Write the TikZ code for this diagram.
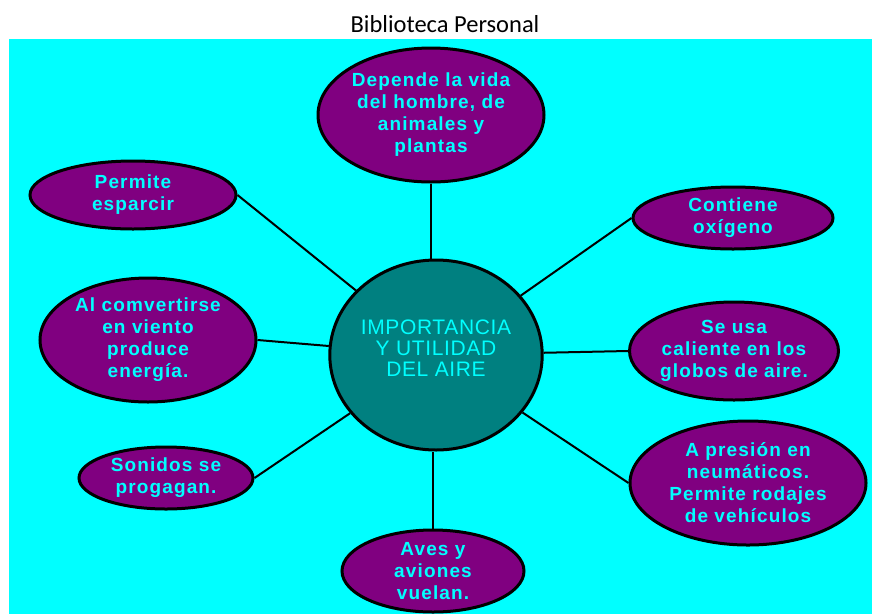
\documentclass[tikz,border=0pt]{standalone}
\usepackage{fontspec}
\setmainfont{Liberation Sans}
\newfontfamily\bubblefont[LetterSpace=6]{Liberation Sans}
\newfontfamily\hubfont[LetterSpace=3]{Liberation Sans}
\newfontfamily\titlefont{Carlito}
\usetikzlibrary{shapes.geometric}
\definecolor{aqua}{RGB}{0,255,255}
\definecolor{plum}{RGB}{128,0,128}
\definecolor{tealfill}{RGB}{0,128,128}
\begin{document}
\begin{tikzpicture}[x=1pt, y=-1pt, line width=2pt,
  bubble/.style={ellipse, draw, line width=3pt, fill=plum, text=aqua, inner sep=0pt, align=center,
    font=\bubblefont\bfseries\fontsize{19}{22}\selectfont},
  hub/.style={ellipse, draw, line width=3pt, fill=tealfill, text=aqua, inner sep=0pt, align=center,
    font=\hubfont\fontsize{21}{21}\selectfont}]
\useasboundingbox (0,0) rectangle (872,614);
\fill[aqua] (9,39) rectangle (872,614);
\node[anchor=base, font=\titlefont\fontsize{24.5}{28}\selectfont] (title) at (445,32) {Biblioteca Personal};
\node[hub, minimum width=208pt, minimum height=190pt, text depth=14pt] (centro) at (436,355) {IMPORTANCIA\\Y UTILIDAD\\DEL AIRE};
\node[bubble, minimum width=226pt, minimum height=134pt] (vida) at (431,115) {Depende la vida\\del hombre, de\\animales y\\plantas};
\node[bubble, minimum width=206pt, minimum height=68pt] (esparcir) at (133,195) {Permite\\esparcir};
\node[bubble, minimum width=216pt, minimum height=124pt] (energia) at (148,340) {Al comvertirse\\en viento\\produce\\energía.};
\node[bubble, minimum width=174pt, minimum height=62pt] (sonidos) at (166,478) {Sonidos se\\progagan.};
\node[bubble, minimum width=182pt, minimum height=82pt] (aves) at (433,571) {Aves y\\aviones\\vuelan.};
\node[bubble, minimum width=236pt, minimum height=124pt] (presion) at (748,483) {A presión en\\neumáticos.\\Permite rodajes\\de vehículos};
\node[bubble, minimum width=196pt, minimum height=98pt] (usa) at (734,351) {Se usa\\caliente en los\\globos de aire.};
\node[bubble, minimum width=200pt, minimum height=62pt] (oxigeno) at (733,218) {Contiene\\oxígeno};
\draw (vida) -- (vida |- centro.north);
\draw (esparcir.east) -- (centro);
\draw (oxigeno.west) -- (centro);
\draw (energia.east) -- (centro);
\draw (usa.west) -- (centro);
\draw (sonidos.east) -- (centro);
\draw (presion.west) -- (centro);
\draw (aves) -- (aves |- centro.south);
\end{tikzpicture}
\end{document}
